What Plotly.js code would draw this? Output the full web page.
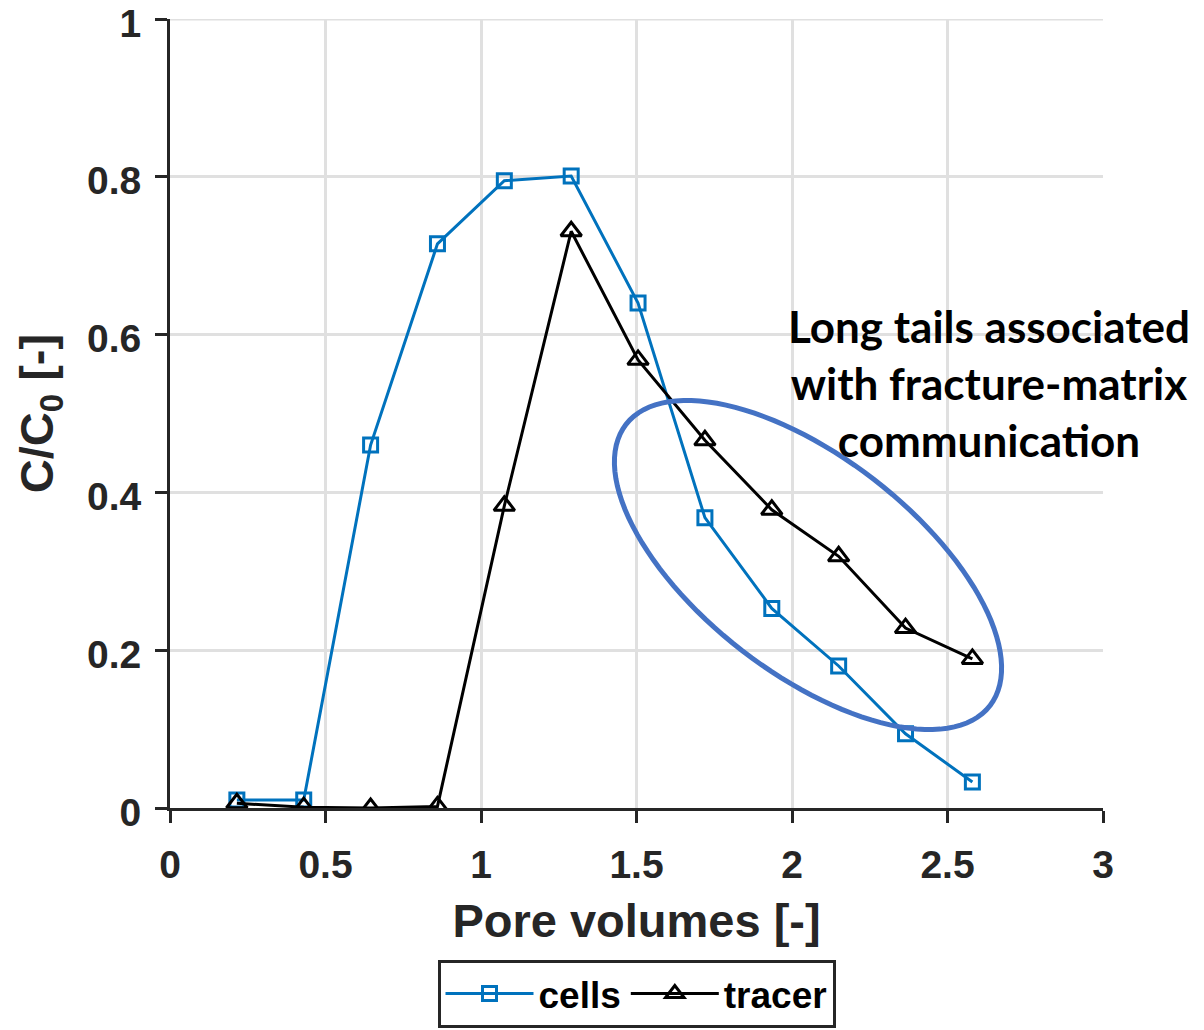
<!DOCTYPE html>
<html>
<head>
<meta charset="utf-8">
<script src="https://cdn.plot.ly/plotly-3.0.1.min.js"></script>
<style>html,body{margin:0;padding:0;background:#fff;}#chart{width:1204px;height:1030px;}</style>
</head>
<body>
<div id="chart"></div>
<script>
// Data
const poreVolumes = [0.215, 0.43, 0.645, 0.86, 1.075, 1.29, 1.505, 1.72, 1.935, 2.15, 2.365, 2.58];
const cellsConc   = [0.010, 0.010, 0.460, 0.715, 0.795, 0.801, 0.640, 0.368, 0.253, 0.180, 0.094, 0.033];
const tracerConc  = [0.006, 0.001, 0.000, 0.002, 0.383, 0.731, 0.568, 0.466, 0.378, 0.319, 0.228, 0.189];
const seriesNames = ["cells", "tracer"];
const xTicks = [0, 0.5, 1, 1.5, 2, 2.5, 3];
const xTickLabels = ["0", "0.5", "1", "1.5", "2", "2.5", "3"];
const yTicks = [0, 0.2, 0.4, 0.6, 0.8, 1];
const yTickLabels = ["0", "0.2", "0.4", "0.6", "0.8", "1"];
const annotationText = "Long tails associated<br>with fracture-matrix<br>communication";

const W = 1204, H = 1030;
const M = {l: 170, r: 101, t: 19, b: 222, autoexpand: false};
const pw = W - M.l - M.r, ph = H - M.t - M.b;

// ellipse highlight (pixel geometry converted to paper coordinates)
function ellipsePath(cx, cy, a, b, deg) {
  const th = deg * Math.PI / 180;
  let d = "";
  for (let i = 0; i <= 120; i++) {
    const t = 2 * Math.PI * i / 120;
    const px = cx + a * Math.cos(t) * Math.cos(th) - b * Math.sin(t) * Math.sin(th);
    const py = cy + a * Math.cos(t) * Math.sin(th) + b * Math.sin(t) * Math.cos(th);
    const xp = (px - M.l) / pw, yp = (M.t + ph - py) / ph;
    d += (i === 0 ? "M" : "L") + xp.toFixed(5) + "," + yp.toFixed(5);
  }
  return d + "Z";
}

const axisFont = {family: "Liberation Sans, Arial, sans-serif", size: 39, color: "#262626", weight: 700};
const titleFont = {family: "Liberation Sans, Arial, sans-serif", size: 47, color: "#262626", weight: 700};
const gridColor = "#e0e0e0";

const traces = [
  {
    x: poreVolumes, y: cellsConc, name: seriesNames[0], type: "scatter", mode: "lines+markers",
    line: {color: "#0072BD", width: 3},
    marker: {symbol: "square-open", size: 14, color: "#0072BD", line: {width: 3, color: "#0072BD"}}
  },
  {
    x: poreVolumes, y: tracerConc, name: seriesNames[1], type: "scatter", mode: "lines+markers",
    line: {color: "#000000", width: 3},
    marker: {symbol: "triangle-up-open", size: 18, color: "#000000", line: {width: 3, color: "#000000"}}
  }
];

const layout = {
  width: W, height: H,
  margin: M,
  paper_bgcolor: "#ffffff", plot_bgcolor: "#ffffff",
  showlegend: true,
  xaxis: {
    range: [0, 3], tickmode: "array", tickvals: xTicks, ticktext: xTickLabels,
    showgrid: true, gridcolor: gridColor, gridwidth: 3,
    zeroline: false, showline: true, linecolor: "#262626", linewidth: 3,
    ticks: "outside", ticklen: 12, tickwidth: 3, tickcolor: "#262626",
    ticklabelstandoff: 8, ticklabeloverflow: "allow",
    tickfont: axisFont,
    title: {text: "Pore volumes [-]", font: titleFont, standoff: 20}
  },
  yaxis: {
    range: [0, 1], tickmode: "array", tickvals: yTicks, ticktext: yTickLabels,
    showgrid: true, gridcolor: gridColor, gridwidth: 3,
    zeroline: false, showline: true, linecolor: "#262626", linewidth: 3,
    ticks: "outside", ticklen: 12, tickwidth: 3, tickcolor: "#262626",
    ticklabelstandoff: 6, ticklabelshift: 4, ticklabeloverflow: "allow",
    tickfont: axisFont,
    title: {text: "C/C<sub>0</sub> [-]", font: titleFont, standoff: 19}
  },
  legend: {
    orientation: "h", x: 0.5, xanchor: "center", y: (M.t + ph - 1028) / ph, yanchor: "bottom",
    bordercolor: "#262626", borderwidth: 3, bgcolor: "#ffffff",
    font: {family: "Liberation Sans, Arial, sans-serif", size: 37, color: "#000000", weight: 700},
    itemwidth: 88
  },
  shapes: [
    {
      // top gridline at the upper edge of the axes
      type: "line", xref: "paper", yref: "y", layer: "below",
      x0: 0, x1: 1, y0: yTicks[yTicks.length - 1], y1: yTicks[yTicks.length - 1],
      line: {color: gridColor, width: 3}
    },
    {
      type: "path", xref: "paper", yref: "paper",
      path: ellipsePath(808, 565, 230, 108, 37.7),
      line: {color: "#4472C4", width: 5}, fillcolor: "rgba(0,0,0,0)"
    }
  ],
  annotations: [{
    xref: "paper", yref: "paper",
    x: (989 - M.l) / pw, y: (M.t + ph - 383) / ph,
    text: annotationText, showarrow: false, align: "center",
    xanchor: "center", yanchor: "middle",
    font: {family: "Lato, Noto Sans, sans-serif", size: 44, color: "#000000", weight: 700}
  }]
};

Plotly.newPlot("chart", traces, layout, {displayModeBar: false, staticPlot: true});
</script>
</body>
</html>
